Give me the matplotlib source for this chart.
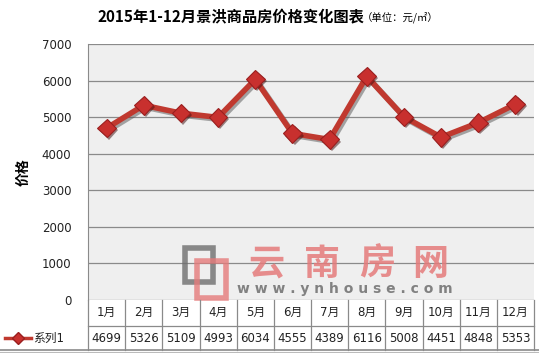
import matplotlib
matplotlib.use("Agg")
import matplotlib.pyplot as plt
import matplotlib.patheffects as pe
from matplotlib.patches import Rectangle
from matplotlib.lines import Line2D

plt.rcParams['font.family'] = ['DejaVu Sans', 'Noto Sans CJK SC']

months = ['1月', '2月', '3月', '4月', '5月', '6月', '7月', '8月', '9月', '10月', '11月', '12月']
prices = [4699, 5326, 5109, 4993, 6034, 4555, 4389, 6116, 5008, 4451, 4848, 5353]
series_name = '系列1'
yticks = [0, 1000, 2000, 3000, 4000, 5000, 6000, 7000]

W, H = 539, 353
fig = plt.figure(figsize=(W / 100, H / 100), dpi=100)
fig.patch.set_facecolor('white')

# plot area in pixel terms
left, right, top, bottom = 88, 534, 44, 300
ax = fig.add_axes([left / W, 1 - bottom / H, (right - left) / W, (bottom - top) / H])
ax.set_facecolor('#efefef')

x = list(range(1, len(prices) + 1))
shadow = [pe.SimpleLineShadow(offset=(1.5, -1.5), shadow_color='#555555', alpha=0.5), pe.Normal()]
ax.plot(x, prices, color='#c0392f', lw=4, zorder=3, path_effects=shadow,
        solid_joinstyle='miter')
ax.plot(x, prices, ls='none', marker='D', ms=9.5, mfc='#c8302e', mec='#9a1f1f', mew=0.8,
        zorder=4, path_effects=[pe.SimplePatchShadow(offset=(1.5, -1.5), alpha=0.5), pe.Normal()])

ax.set_xlim(0.5, 12.5)
ax.set_ylim(0, 7000)
ax.set_yticks(yticks)
ax.set_yticklabels([str(v) for v in yticks], fontsize=8.5, color='#222222')
ax.set_xticks([])
ax.tick_params(axis='y', length=0, pad=12)
ax.grid(axis='y', color='#8a8a8a', lw=0.9)
ax.set_axisbelow(True)
for s in ['top', 'right', 'bottom']:
    ax.spines[s].set_visible(False)
ax.spines['left'].set_color('#8a8a8a')

ax.set_ylabel('价格', fontsize=10, fontweight='bold', family=['Noto Sans CJK SC'], labelpad=8)

# title
fig.text(97 / W, 1 - 16 / H, '2015年1-12月景洪商品房价格变化图表', fontsize=11, fontweight='bold',
         family=['Noto Sans CJK SC'], ha='left', va='center')
fig.text(362 / W, 1 - 17 / H, '（单位：元/㎡）', fontsize=7.5,
         family=['Noto Sans CJK SC'], ha='left', va='center')

# watermark
fig.patches.append(Rectangle((185 / W, 1 - 282 / H), 28 / W, 34 / H, transform=fig.transFigure,
                             fill=False, ec='#6e6e6e', lw=4, alpha=0.8))
fig.patches.append(Rectangle((197 / W, 1 - 298 / H), 29 / W, 37 / H, transform=fig.transFigure,
                             fill=False, ec='#e57b7b', lw=4, alpha=0.8))
for ch, xc in zip('云南房网', [266, 322, 377, 430]):
    fig.text(xc / W, 1 - 264 / H, ch, fontsize=26, color='#e57b7b', alpha=0.85, fontweight='bold',
             family=['Noto Sans CJK SC'], ha='center', va='center')
fig.text(345 / W, 1 - 289 / H, 'w w w . y n h o u s e . c o m', fontsize=10, color='#6e6e6e',
         alpha=0.85, fontweight='bold', ha='center', va='center')

# data table
r1, r2, r3 = 300, 326, 350
tc = '#8a8a8a'
col_w = (right - left) / 12
for i in range(13):
    xp = left + i * col_w
    fig.add_artist(Line2D([xp / W, xp / W], [1 - r1 / H, 1 - r3 / H], color=tc, lw=0.9))
fig.add_artist(Line2D([left / W, right / W], [1 - r2 / H, 1 - r2 / H], color=tc, lw=0.9))
fig.add_artist(Line2D([0, 1], [1 - r3 / H, 1 - r3 / H], color=tc, lw=1.2))
fig.add_artist(Line2D([0, 1], [1 - (r3 + 2) / H, 1 - (r3 + 2) / H], color='#bbbbbb', lw=0.8))

for i, (m, v) in enumerate(zip(months, prices)):
    xc = (left + (i + 0.5) * col_w) / W
    fig.text(xc, 1 - 312 / H, m, fontsize=8.5, ha='center', va='center', color='#222222')
    fig.text(xc, 1 - 338 / H, str(v), fontsize=8.5, ha='center', va='center', color='#222222')

# legend key in table
fig.add_artist(Line2D([5 / W, 31 / W], [1 - 338 / H, 1 - 338 / H], color='#c0392f', lw=2.5))
fig.add_artist(Line2D([18 / W], [1 - 338 / H], marker='D', ms=6, mfc='#c8302e', mec='#9a1f1f',
                      ls='none'))
fig.text(33 / W, 1 - 338 / H, series_name, fontsize=8.5, ha='left', va='center', color='#222222')

fig.savefig('out.png', dpi=100)
